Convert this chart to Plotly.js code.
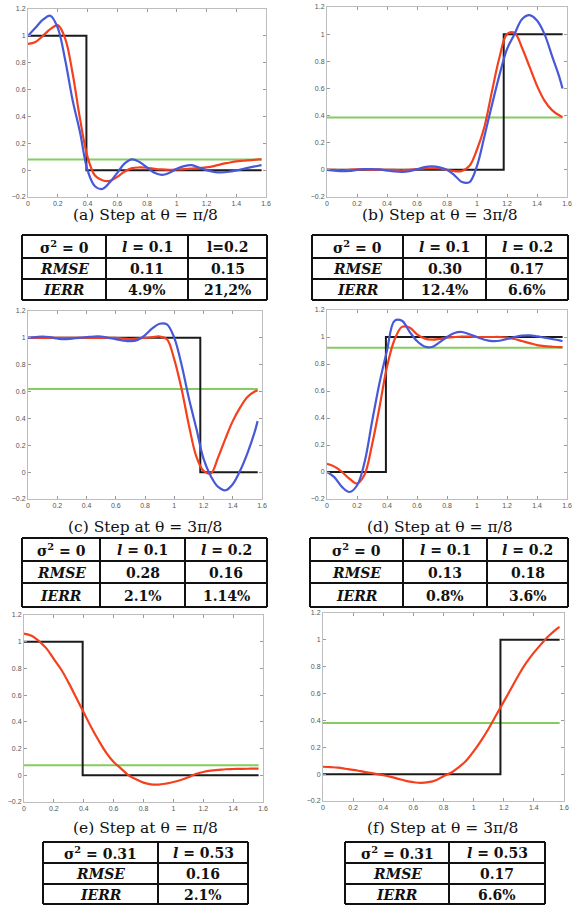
<!DOCTYPE html>
<html>
<head>
<meta charset="utf-8">
<script src="https://cdn.plot.ly/plotly-3.0.1.min.js"></script>
<style>html,body{margin:0;padding:0;background:#fff}#chart{width:581px;height:906px}</style>
</head>
<body>
<div id="chart"></div>
<script>
// ---------------- DATA ----------------
const xs = [0,0.05,0.1,0.15,0.2,0.25,0.3,0.35,0.4,0.45,0.5,0.55,0.6,0.65,0.7,0.75,0.8,0.85,0.9,0.95,1.0,1.05,1.1,1.15,1.2,1.25,1.3,1.35,1.4,1.45,1.5,1.55,1.57];
const xEnd = 1.5708;
const stepPi8 = 0.3927;
const step3Pi8 = 1.1781;

// (a) step down at pi/8, sigma^2 = 0
const aBlue = [1.0,1.06,1.12,1.15,1.06,0.82,0.52,0.28,0.0,-0.12,-0.14,-0.09,-0.02,0.05,0.08,0.06,0.02,-0.02,-0.035,-0.02,0.01,0.03,0.037,0.02,0.0,-0.013,-0.017,-0.012,-0.002,0.01,0.022,0.033,0.037];
const aRed  = [0.94,0.955,1.0,1.05,1.08,0.98,0.72,0.38,0.1,-0.04,-0.075,-0.08,-0.05,-0.01,0.015,0.02,0.018,0.01,0.005,0.003,0.005,0.008,0.012,0.015,0.02,0.03,0.045,0.055,0.065,0.07,0.075,0.08,0.08];
const aGreen = 0.08;
// (b) step up at 3pi/8, sigma^2 = 0
const bBlue = [0,-0.005,-0.01,-0.008,0,0.005,0.006,0.003,-0.005,-0.012,-0.015,-0.01,0.005,0.02,0.025,0.018,0.0,-0.04,-0.09,-0.09,0.03,0.25,0.48,0.7,0.89,1.0,1.11,1.14,1.1,1.0,0.84,0.68,0.6];
const bRed  = [0,0,-0.003,0,0.003,0.003,0,0,0,0,-0.003,0,0.005,0.01,0.012,0.01,0.0,-0.01,-0.008,0.03,0.15,0.32,0.58,0.83,1.0,1.01,0.9,0.76,0.62,0.51,0.44,0.4,0.39];
const bGreen = 0.385;
// (c) step down at 3pi/8, sigma^2 = 0
const cBlue = [1.0,1.005,1.01,1.005,0.995,0.99,0.995,1.0,1.005,1.01,1.01,1.0,0.99,0.98,0.975,0.985,1.02,1.07,1.105,1.1,1.0,0.8,0.55,0.33,0.1,-0.03,-0.11,-0.135,-0.09,0.01,0.14,0.3,0.38];
const cRed  = [1.0,1.0,1.0,1.0,1.0,1.0,1.0,1.0,1.0,1.0,1.0,1.0,1.0,0.995,0.99,0.995,1.0,1.005,1.01,0.99,0.84,0.62,0.35,0.12,0.01,-0.01,0.11,0.25,0.38,0.48,0.56,0.6,0.61];
const cGreen = 0.62;
// (d) step up at pi/8, sigma^2 = 0
const dBlue = [0.0,-0.04,-0.11,-0.148,-0.1,0.07,0.37,0.66,0.9,1.12,1.12,1.04,0.97,0.93,0.926,0.96,1.0,1.03,1.037,1.02,1.0,0.98,0.97,0.972,0.985,1.0,1.01,1.012,1.005,0.995,0.985,0.975,0.968];
const dRed  = [0.06,0.04,0.0,-0.05,-0.085,-0.02,0.2,0.48,0.78,0.98,1.075,1.07,1.02,0.99,0.98,0.985,0.995,1.0,1.003,1.003,1.0,1.0,1.0,1.0,0.995,0.985,0.97,0.955,0.94,0.932,0.928,0.925,0.925];
const dGreen = 0.92;
// (e) step down at pi/8, sigma^2 = 0.31
const eRed  = [1.06,1.045,1.005,0.95,0.87,0.79,0.69,0.58,0.47,0.36,0.26,0.17,0.1,0.05,0.0,-0.03,-0.055,-0.068,-0.07,-0.062,-0.05,-0.035,-0.015,0.01,0.025,0.035,0.04,0.045,0.047,0.048,0.049,0.05,0.05];
const eGreen = 0.075;
// (f) step up at 3pi/8, sigma^2 = 0.31
const fRed  = [0.055,0.052,0.048,0.04,0.032,0.022,0.012,0.002,-0.008,-0.02,-0.035,-0.05,-0.06,-0.065,-0.06,-0.045,-0.015,0.01,0.05,0.1,0.17,0.25,0.34,0.44,0.54,0.64,0.74,0.83,0.905,0.97,1.03,1.08,1.097];
const fGreen = 0.38;

const captions = ["(a) Step at θ = π/8","(b) Step at θ = 3π/8","(c) Step at θ = 3π/8","(d) Step at θ = π/8","(e) Step at θ = π/8","(f) Step at θ = 3π/8"];
const tableA = [["σ<sup>2</sup> = 0","<i>l</i> = 0.1","l=0.2"],["<i>RMSE</i>","0.11","0.15"],["<i>IERR</i>","4.9%","21,2%"]];
const tableB = [["σ<sup>2</sup> = 0","<i>l</i> = 0.1","<i>l</i> = 0.2"],["<i>RMSE</i>","0.30","0.17"],["<i>IERR</i>","12.4%","6.6%"]];
const tableC = [["σ<sup>2</sup> = 0","<i>l</i> = 0.1","<i>l</i> = 0.2"],["<i>RMSE</i>","0.28","0.16"],["<i>IERR</i>","2.1%","1.14%"]];
const tableD = [["σ<sup>2</sup> = 0","<i>l</i> = 0.1","<i>l</i> = 0.2"],["<i>RMSE</i>","0.13","0.18"],["<i>IERR</i>","0.8%","3.6%"]];
const tableE = [["σ<sup>2</sup> = 0.31","<i>l</i> = 0.53"],["<i>RMSE</i>","0.16"],["<i>IERR</i>","2.1%"]];
const tableF = [["σ<sup>2</sup> = 0.31","<i>l</i> = 0.53"],["<i>RMSE</i>","0.17"],["<i>IERR</i>","6.6%"]];

// ---------------- LAYOUT HELPERS ----------------
const W = 581, H = 906;
const px = v => v / W;
const py = v => 1 - v / H;

const RED = '#f5401e', BLUE = '#4758d8', GREEN = '#86cc60', BLACK = '#1a1a1a';
const SERIF = 'DejaVu Serif, Liberation Serif, serif';

// panel frames in pixels: [left, right, top(1.2), bottom(-0.2)]
const frames = [
  [28, 266, 9, 197],
  [327, 567, 7, 197],
  [28, 262, 311, 499],
  [327, 567, 310, 499],
  [24, 263, 615, 802],
  [323, 564, 613, 801]
];
const panels = [
  {blue: aBlue, red: aRed, green: aGreen, stepAt: stepPi8, up: false},
  {blue: bBlue, red: bRed, green: bGreen, stepAt: step3Pi8, up: true},
  {blue: cBlue, red: cRed, green: cGreen, stepAt: step3Pi8, up: false},
  {blue: dBlue, red: dRed, green: dGreen, stepAt: stepPi8, up: true},
  {blue: null, red: eRed, green: eGreen, stepAt: stepPi8, up: false},
  {blue: null, red: fRed, green: fGreen, stepAt: step3Pi8, up: true}
];

const traces = [];
const layout = {
  width: W, height: H,
  margin: {l: 0, r: 0, t: 0, b: 0},
  paper_bgcolor: '#fff', plot_bgcolor: '#fff',
  showlegend: false,
  shapes: [], annotations: []
};

panels.forEach((p, i) => {
  const n = i + 1;
  const xa = 'x' + (n === 1 ? '' : n), ya = 'y' + (n === 1 ? '' : n);
  const f = frames[i];
  const axCommon = {
    showgrid: false, zeroline: false, showline: true, linecolor: '#bdbdbd', linewidth: 1,
    mirror: 'allticks', ticks: 'inside', ticklen: 3, tickcolor: '#9a9a9a', tickwidth: 1,
    tickfont: {family: 'Liberation Sans, Arial, sans-serif', size: 7, color: '#555'},
    dtick: 0.2, tick0: 0, fixedrange: true
  };
  layout['xaxis' + (n === 1 ? '' : n)] = Object.assign({}, axCommon, {
    domain: [px(f[0]), px(f[1])], range: [0, 1.6], anchor: ya, ticklabelstandoff: 0
  });
  layout['yaxis' + (n === 1 ? '' : n)] = Object.assign({}, axCommon, {
    domain: [py(f[3]), py(f[2])], range: [-0.2, 1.2], anchor: xa
  });
  const lo = p.up ? 0 : 1, hi = p.up ? 1 : 0;
  traces.push({x: [0, xEnd], y: [p.green, p.green], xaxis: xa, yaxis: ya, mode: 'lines',
    line: {color: GREEN, width: 2}, hoverinfo: 'skip'});
  traces.push({x: [0, p.stepAt, p.stepAt, xEnd], y: [lo, lo, hi, hi], xaxis: xa, yaxis: ya, mode: 'lines',
    line: {color: BLACK, width: 2}, hoverinfo: 'skip'});
  traces.push({x: xs, y: p.red, xaxis: xa, yaxis: ya, mode: 'lines',
    line: {color: RED, width: 2.2, shape: 'spline', smoothing: 1}, hoverinfo: 'skip'});
  if (p.blue) traces.push({x: xs, y: p.blue, xaxis: xa, yaxis: ya, mode: 'lines',
    line: {color: BLUE, width: 2.2, shape: 'spline', smoothing: 1}, hoverinfo: 'skip'});
});

// captions
const capPos = [[145, 215], [440, 215], [145, 527], [440, 527], [145, 828], [443, 828]];
captions.forEach((c, i) => {
  layout.annotations.push({text: c, xref: 'paper', yref: 'paper', x: px(capPos[i][0]), y: py(capPos[i][1]),
    xanchor: 'center', yanchor: 'middle', showarrow: false,
    font: {family: SERIF, size: 15.5, color: '#111'}});
});

// tables: column edges and row edges in pixels
const tableGeo = [
  {cols: [22, 106, 188, 267], rows: [235, 258, 279, 300], data: tableA},
  {cols: [312, 403, 486, 568], rows: [235, 258, 279, 300], data: tableB},
  {cols: [22, 100, 185, 267], rows: [538, 561, 583, 607], data: tableC},
  {cols: [310, 403, 487, 568], rows: [538, 561, 583, 607], data: tableD},
  {cols: [43, 158, 248], rows: [842, 863, 884, 904], data: tableE},
  {cols: [345, 449, 545], rows: [842, 863, 884, 904], data: tableF}
];
tableGeo.forEach(t => {
  const c = t.cols, r = t.rows;
  c.forEach(cx => layout.shapes.push({type: 'line', xref: 'paper', yref: 'paper',
    x0: px(cx), x1: px(cx), y0: py(r[0]), y1: py(r[r.length - 1]), line: {color: '#111', width: 2}}));
  r.forEach(ry => layout.shapes.push({type: 'line', xref: 'paper', yref: 'paper',
    x0: px(c[0]), x1: px(c[c.length - 1]), y0: py(ry), y1: py(ry), line: {color: '#111', width: 2}}));
  t.data.forEach((row, ri) => row.forEach((txt, ci) => {
    layout.annotations.push({text: '<b>' + txt + '</b>', xref: 'paper', yref: 'paper',
      x: px((c[ci] + c[ci + 1]) / 2), y: py((r[ri] + r[ri + 1]) / 2 + 0.5),
      xanchor: 'center', yanchor: 'middle', showarrow: false,
      font: {family: SERIF, size: 14, color: '#111'}});
  }));
});

Plotly.newPlot('chart', traces, layout, {staticPlot: true, displayModeBar: false});
</script>
</body>
</html>
